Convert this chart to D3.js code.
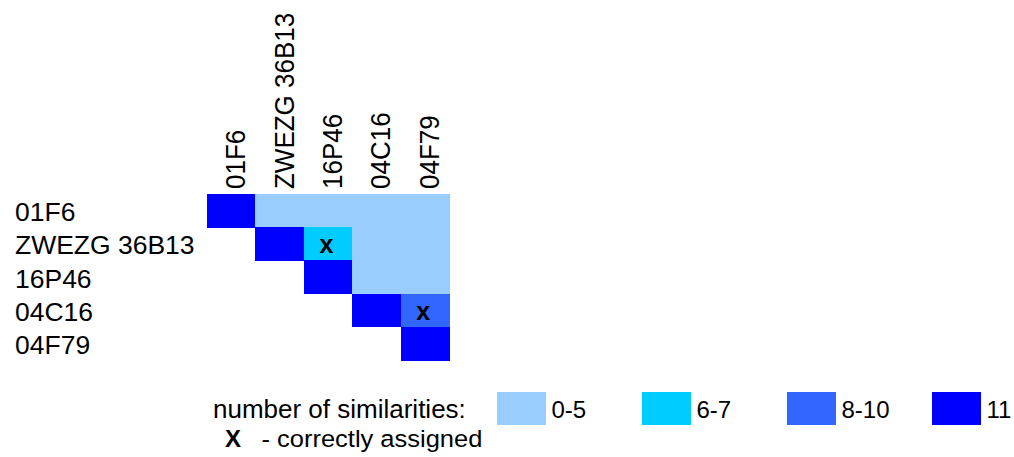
<!DOCTYPE html>
<html>
<head>
<meta charset="utf-8">
<script src="https://cdn.jsdelivr.net/npm/d3@7"></script>
<style>
  html, body { margin: 0; padding: 0; background: #ffffff; }
  svg { display: block; font-family: "Liberation Sans", Arial, sans-serif; }
</style>
</head>
<body>
<svg id="chart" width="1014" height="457"></svg>
<script>
// Clone names (rows and columns of the comparison matrix)
const clones = ["01F6", "ZWEZG 36B13", "16P46", "04C16", "04F79"];

// Similarity bins and their colours
const binLabels = ["0-5", "6-7", "8-10", "11"];
const binColors = ["#99ccff", "#00ccff", "#3366ff", "#0000ff"];

// Upper-triangle cells: [row clone, column clone, similarity bin]
const cellRows = ["01F6", "01F6", "01F6", "01F6", "01F6",
                  "ZWEZG 36B13", "ZWEZG 36B13", "ZWEZG 36B13", "ZWEZG 36B13",
                  "16P46", "16P46", "16P46",
                  "04C16", "04C16",
                  "04F79"];
const cellCols = ["01F6", "ZWEZG 36B13", "16P46", "04C16", "04F79",
                  "ZWEZG 36B13", "16P46", "04C16", "04F79",
                  "16P46", "04C16", "04F79",
                  "04C16", "04F79",
                  "04F79"];
const cellBins = ["11", "0-5", "0-5", "0-5", "0-5",
                  "11", "6-7", "0-5", "0-5",
                  "11", "0-5", "0-5",
                  "11", "8-10",
                  "11"];
// Pairs marked as correctly assigned
const assignedRows = ["ZWEZG 36B13", "04C16"];
const assignedCols = ["16P46", "04F79"];

const cells = cellRows.map((r, i) => ({ row: r, col: cellCols[i], bin: cellBins[i] }));
const marks = assignedRows.map((r, i) => ({ row: r, col: assignedCols[i] }));

const svg = d3.select("#chart");

const x = d3.scaleBand().domain(clones).range([207, 449]).padding(0);
const y = d3.scaleBand().domain(clones).range([194, 360]).padding(0);
const color = d3.scaleOrdinal().domain(binLabels).range(binColors);

// Matrix cells
svg.append("g").selectAll("rect")
  .data(cells)
  .join("rect")
  .attr("x", d => x(d.col))
  .attr("y", d => y(d.row))
  .attr("width", x.bandwidth() + 0.5)
  .attr("height", y.bandwidth() + 0.5)
  .attr("fill", d => color(d.bin))
  .attr("shape-rendering", "crispEdges");

// "x" marks for correctly assigned pairs
svg.append("g").selectAll("text")
  .data(marks)
  .join("text")
  .attr("x", d => x(d.col) + x.bandwidth() / 2 - 1.5)
  .attr("y", d => y(d.row) + y.bandwidth() / 2 + 9.5)
  .attr("text-anchor", "middle")
  .attr("font-size", 25)
  .attr("font-weight", "bold")
  .attr("fill", "#000")
  .text("x");

// Row labels
svg.append("g").selectAll("g")
  .data(clones)
  .join("g")
  .attr("transform", d => `translate(15,${y(d) + y.bandwidth() / 2 + 10.5})scale(1.06,1)`)
  .append("text")
  .attr("font-size", 25)
  .attr("fill", "#000")
  .text(d => d);

// Column labels (rotated)
svg.append("g").selectAll("g")
  .data(clones)
  .join("g")
  .attr("transform", d => `translate(${x(d) + x.bandwidth() / 2 + 14},189)scale(1.08,1)rotate(-90)`)
  .append("text")
  .attr("font-size", 26)
  .attr("fill", "#000")
  .text(d => d);

// Legend
const legend = svg.append("g");
legend.append("g")
  .attr("transform", "translate(213,418)scale(1.04,1)")
  .append("text")
  .attr("font-size", 25)
  .attr("fill", "#000")
  .text("number of similarities:");

const lx = d3.scalePoint().domain(binLabels).range([497, 932]);
const items = legend.selectAll("g.item")
  .data(binLabels)
  .join("g")
  .attr("class", "item")
  .attr("transform", d => `translate(${lx(d)},392)`);
items.append("rect")
  .attr("width", 48.5)
  .attr("height", 32.5)
  .attr("fill", d => color(d))
  .attr("shape-rendering", "crispEdges");
items.append("text")
  .attr("x", 54.5)
  .attr("y", 25.5)
  .attr("font-size", 24)
  .attr("fill", "#000")
  .text(d => d);

legend.append("text")
  .attr("x", 225)
  .attr("y", 446.5)
  .attr("font-size", 24)
  .attr("font-weight", "bold")
  .attr("fill", "#000")
  .text("X");
legend.append("g")
  .attr("transform", "translate(261.5,446.5)scale(1.04,1)")
  .append("text")
  .attr("font-size", 24.5)
  .attr("fill", "#000")
  .text("- correctly assigned");
</script>
</body>
</html>
